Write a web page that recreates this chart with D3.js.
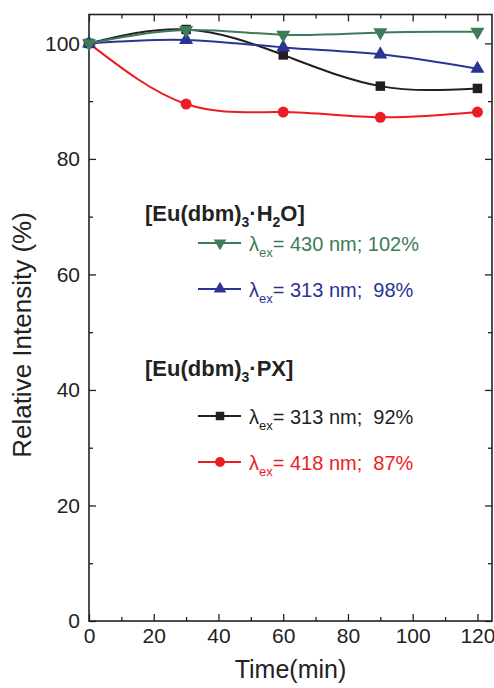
<!DOCTYPE html>
<html>
<head>
<meta charset="utf-8">
<script src="https://cdn.jsdelivr.net/npm/d3@7"></script>
<style>
  body { margin: 0; background: #fff; }
  text { font-family: "Liberation Sans", Arial, sans-serif; white-space: pre; }
</style>
</head>
<body>
<div id="chart"></div>
<script>
// Data
const times = [0, 30, 60, 90, 120];
const h2o430 = [100, 102.3, 101.5, 101.9, 102.0];
const h2o313 = [100, 100.6, 99.3, 98.1, 95.6];
const px313 = [100, 102.4, 98.0, 92.6, 92.2];
const px418 = [100, 89.5, 88.1, 87.2, 88.1];

const xMajor = [0, 20, 40, 60, 80, 100, 120];
const yMajor = [0, 20, 40, 60, 80, 100];

const groupTitles = [
    ["[Eu(dbm)", "3", "·H", "2", "O]"],
    ["[Eu(dbm)", "3", "·PX]"]
];
const legendWaves = ["= 430 nm; 102%", "= 313 nm;  98%", "= 313 nm;  92%", "= 418 nm;  87%"];

const width = 494;
const height = 688;

const svg = d3.select("#chart")
    .append("svg")
    .attr("width", width)
    .attr("height", height);

const x = d3.scaleLinear().domain([0, 124.5]).range([89, 492]);
const y = d3.scaleLinear().domain([0, 105]).range([621, 14.5]);

const axisColor = "#222";

// Minor ticks (every 10), drawn on all four sides, pointing inward
const xMinor = d3.range(10, 121, 20);
const yMinor = d3.range(10, 101, 20);

function styleAxis(g) {
    g.select(".domain").remove();
    g.selectAll(".tick line").attr("stroke", axisColor).attr("stroke-width", 1.3);
    g.selectAll(".tick text")
        .attr("fill", axisColor)
        .style("font-size", "21px")
        .style("font-family", "'Liberation Sans', Arial, sans-serif");
}

// bottom
svg.append("g")
    .attr("transform", `translate(0, ${y(0)})`)
    .call(d3.axisBottom(x).tickValues(xMajor).tickSize(-7).tickPadding(7).tickFormat(d3.format("d")))
    .call(styleAxis);
svg.append("g")
    .attr("transform", `translate(0, ${y(0)})`)
    .call(d3.axisBottom(x).tickValues(xMinor).tickSize(-4).tickFormat(""))
    .call(styleAxis);
// top
svg.append("g")
    .attr("transform", `translate(0, ${y(105)})`)
    .call(d3.axisTop(x).tickValues(xMajor).tickSize(-7).tickFormat(""))
    .call(styleAxis);
svg.append("g")
    .attr("transform", `translate(0, ${y(105)})`)
    .call(d3.axisTop(x).tickValues(xMinor).tickSize(-4).tickFormat(""))
    .call(styleAxis);
// left
svg.append("g")
    .attr("transform", `translate(${x(0)}, 0)`)
    .call(d3.axisLeft(y).tickValues(yMajor).tickSize(-7).tickPadding(9).tickFormat(d3.format("d")))
    .call(styleAxis);
svg.append("g")
    .attr("transform", `translate(${x(0)}, 0)`)
    .call(d3.axisLeft(y).tickValues(yMinor).tickSize(-4).tickFormat(""))
    .call(styleAxis);
// right
svg.append("g")
    .attr("transform", `translate(${x(124.5)}, 0)`)
    .call(d3.axisRight(y).tickValues(yMajor).tickSize(-7).tickFormat(""))
    .call(styleAxis);
svg.append("g")
    .attr("transform", `translate(${x(124.5)}, 0)`)
    .call(d3.axisRight(y).tickValues(yMinor).tickSize(-4).tickFormat(""))
    .call(styleAxis);

// frame
svg.append("rect")
    .attr("x", x(0))
    .attr("y", y(105))
    .attr("width", x(124.5) - x(0))
    .attr("height", y(0) - y(105))
    .attr("fill", "none")
    .attr("stroke", axisColor)
    .attr("stroke-width", 1.6);

// axis titles
svg.append("text")
    .attr("x", (x(0) + x(124.5)) / 2)
    .attr("y", 678)
    .attr("text-anchor", "middle")
    .attr("fill", axisColor)
    .style("font-size", "25px")
    .text("Time(min)");

svg.append("text")
    .attr("transform", "translate(31, 335) rotate(-90)")
    .attr("text-anchor", "middle")
    .attr("fill", axisColor)
    .style("font-size", "26px")
    .text("Relative Intensity (%)");

// series
const series = [
    { values: h2o430, color: "#3e7b58", symbol: d3.symbolTriangle, size: 85, rotate: 180 },
    { values: h2o313, color: "#2b3394", symbol: d3.symbolTriangle, size: 85, rotate: 0 },
    { values: px313, color: "#231f20", symbol: d3.symbolSquare, size: 90, rotate: 0 },
    { values: px418, color: "#ed1c24", symbol: d3.symbolCircle, size: 95, rotate: 0 }
];

const line = d3.line()
    .x((d, i) => x(times[i]))
    .y((d) => y(d))
    .curve(d3.curveNatural);

// draw red first so the others sit on top like the original
const drawOrder = [3, 2, 1, 0];
drawOrder.forEach((k) => {
    const s = series[k];
    svg.append("path")
        .datum(s.values)
        .attr("fill", "none")
        .attr("stroke", s.color)
        .attr("stroke-width", 2)
        .attr("d", line);

    svg.selectAll(null)
        .data(s.values)
        .enter()
        .append("path")
        .attr("transform", (d, i) => `translate(${x(times[i])}, ${y(d)}) rotate(${s.rotate})`)
        .attr("d", d3.symbol().type(s.symbol).size(s.size))
        .attr("fill", s.color);
});

// legend
const titleY = [221, 376];
groupTitles.forEach((parts, g) => {
    const t = svg.append("text")
        .attr("x", 145)
        .attr("y", titleY[g])
        .attr("fill", axisColor)
        .style("font-size", "22px")
        .style("font-weight", "bold");
    parts.forEach((p, i) => {
        const sub = i % 2 === 1;
        t.append("tspan")
            .attr("dy", sub ? 6 : (i > 0 ? -6 : 0))
            .style("font-size", sub ? "14px" : "22px")
            .text(p);
    });
});

const rowY = [243, 289, 416, 462];
series.forEach((s, i) => {
    const row = svg.append("g").attr("transform", `translate(0, ${rowY[i]})`);
    row.append("line")
        .attr("x1", 198)
        .attr("x2", 241)
        .attr("stroke", s.color)
        .attr("stroke-width", 2);
    row.append("path")
        .attr("transform", `translate(220, 0) rotate(${s.rotate})`)
        .attr("d", d3.symbol().type(s.symbol).size(s.size * 0.8))
        .attr("fill", s.color);
    const t = row.append("text")
        .attr("x", 249)
        .attr("y", 8)
        .attr("fill", s.color)
        .style("font-size", "20px");
    t.append("tspan").text("λ");
    t.append("tspan").attr("dy", 6).style("font-size", "13px").text("ex");
    t.append("tspan").attr("dy", -6).text(legendWaves[i]);
});
</script>
</body>
</html>
